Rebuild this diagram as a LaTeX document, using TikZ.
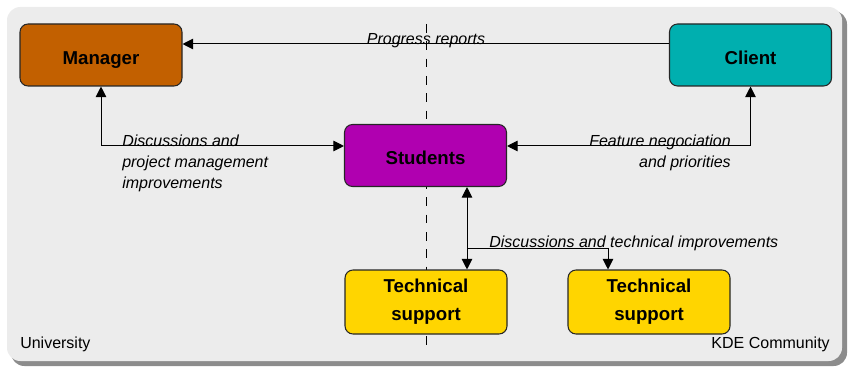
\documentclass[tikz,border=0pt]{standalone}
\usepackage{fontspec}
\setmainfont{Liberation Sans}
\usepackage{xcolor}
\definecolor{mgrorange}{HTML}{C26000}
\definecolor{clientteal}{HTML}{00AFAF}
\definecolor{stdpurple}{HTML}{B000B0}
\definecolor{techgold}{HTML}{FFD500}
\definecolor{bggray}{HTML}{ECECEC}
\usetikzlibrary{arrows.meta}
\usetikzlibrary{positioning}

\begin{document}
\begin{tikzpicture}[x=0.75pt,y=-0.75pt,
		role/.style={draw=black!85, line width=0.8pt, rounded corners=6pt, minimum width=121.5pt, minimum height=46.5pt, align=center, font=\fontsize{14}{21}\selectfont\bfseries},
		solo/.style={role, text height=17pt, text depth=3pt},
		link/.style={line width=0.75pt, -{Triangle[length=8pt,width=8pt]}},
		both/.style={line width=0.75pt, {Triangle[length=8pt,width=8pt]}-{Triangle[length=8pt,width=8pt]}},
		tag/.style={inner sep=0pt, font=\fontsize{12}{15.5}\selectfont\itshape},
		side/.style={inner sep=0pt, anchor=base, font=\fontsize{12}{15}\selectfont}]
				\useasboundingbox (0,0) rectangle (849,367);
				% background with its shadow
				\fill[black!45, rounded corners=10pt] (11,11) rectangle (847,366);
				\fill[bggray, rounded corners=10pt] (7,7) rectangle (842,361);
				\draw[line width=0.75pt, dash pattern=on 6.5pt off 6.5pt] (426,24) -- (426,350);
				% the roles
				\node[solo, fill=mgrorange] (mgr) at (101,55) {Manager};
				\node[solo, fill=clientteal] (cli) at (750.5,55) {Client};
				\node[solo, fill=stdpurple] (stu) at (425.5,155.5) {Students};
				\node[role, fill=techgold, minimum height=48pt] (tec1) at (426,302) {Technical\\support};
				\node[role, fill=techgold, minimum height=48pt] (tec2) at (649,302) {Technical\\support};
				% helper coordinates
				\coordinate (rep) at (0,44);
				\coordinate (dis) at (0,146);
				\coordinate (tx1) at (467,248);
				\coordinate (tx2) at (608,248);
				% connectors
				\draw[link] (cli.west |- rep) -- (mgr.east |- rep);
				\draw[both] (mgr.south) |- (stu.west |- dis);
				\draw[both] (cli.south) |- (stu.east |- dis);
				\draw[both] (stu.south -| tx1) -- (tec1.north -| tx1);
				\draw[link] (tx1) -| (tec2.north -| tx2);
				% labels
				\node[tag, anchor=base] (lrep) at (426,45) {Progress reports};
				\node[tag, anchor=north west, align=left] (ldis) at (122,135) {Discussions and\\project management\\improvements};
				\node[tag, anchor=north east, align=right] (lfea) at (731,135) {Feature negociation\\and priorities};
				\node[tag, anchor=base west] (ltec) at (489,247) {Discussions and technical improvements};
				\node[side, anchor=base west] (uni) at (20,348) {University};
				\node[side, anchor=base east] (kde) at (830,348) {KDE Community};
			\end{tikzpicture}
\end{document}
